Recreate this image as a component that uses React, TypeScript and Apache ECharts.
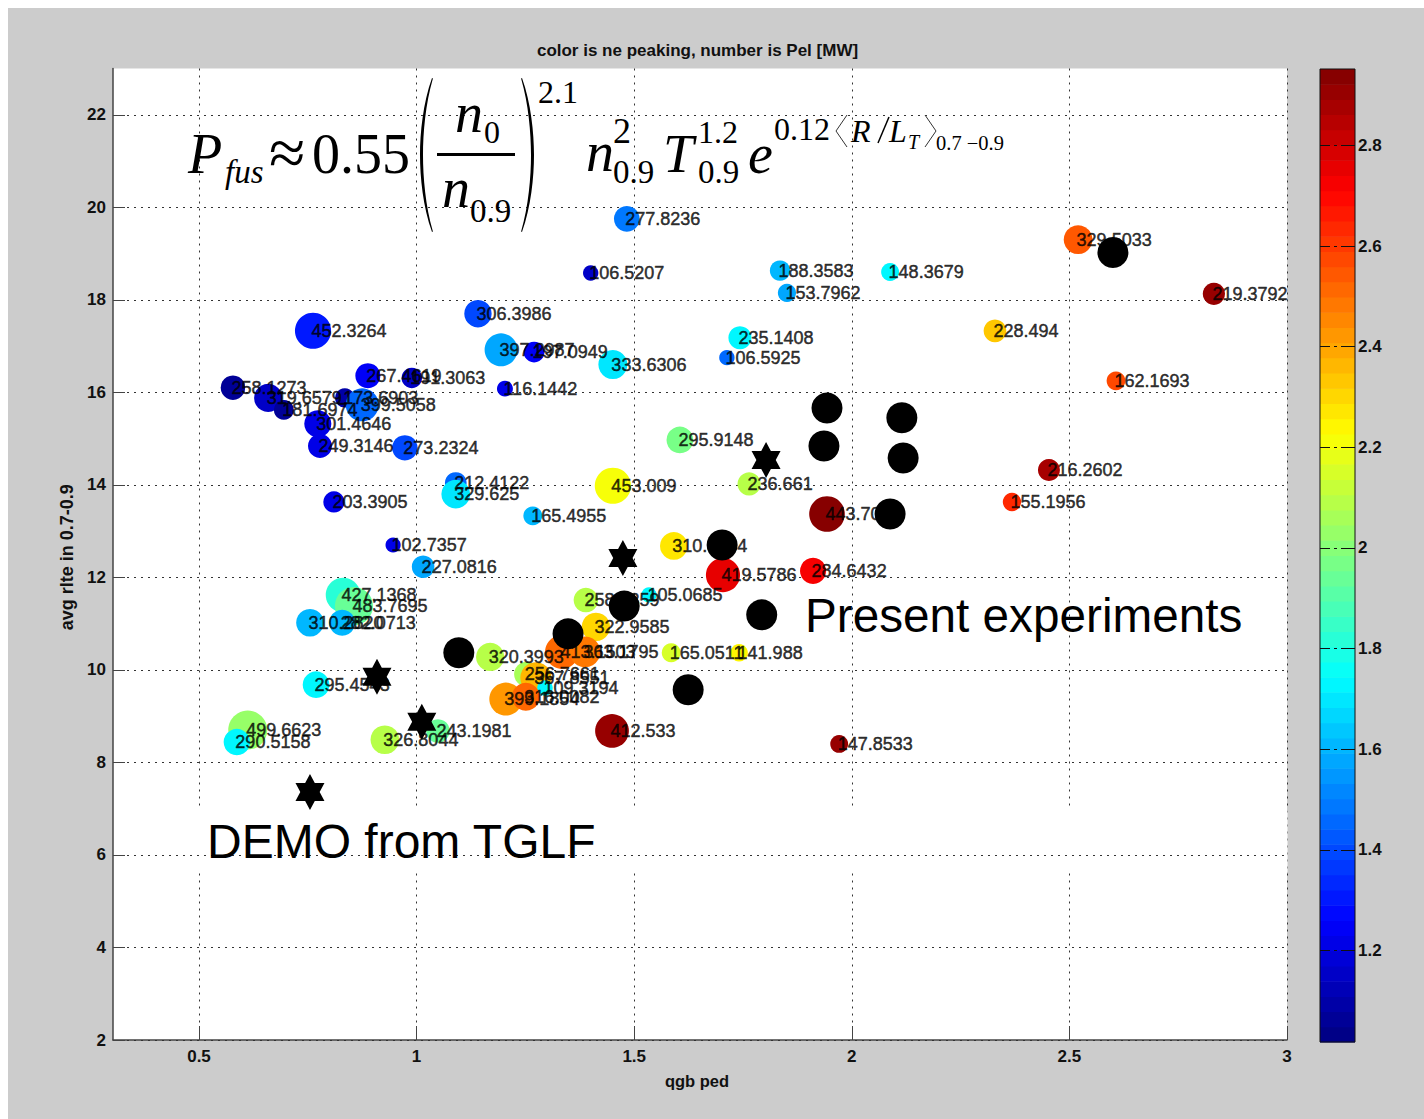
import React, { useEffect, useRef } from "react";
import * as echarts from "echarts";

// colored points: qgb ped, avg rlte, ne peaking, Pel label
const pointX = [1.483,1.40,1.835,2.088,1.851,2.52,2.832,2.329,1.141,0.762,1.194,1.27,1.451,1.743,1.713,0.578,0.659,0.695,0.835,0.875,0.888,0.989,1.203,0.773,0.778,0.973,1.09,1.09,0.81,1.267,1.451,1.605,1.764,1.943,2.453,2.368,2.607,0.946,1.015,0.831,0.856,0.755,0.829,0.769,0.612,0.587,0.927,1.049,1.169,1.591,1.704,1.911,1.389,1.534,1.412,1.585,1.741,1.334,1.387,1.252,1.274,1.295,1.205,1.251,1.449,1.971];
const pointY = [19.75,18.58,18.63,18.6,18.15,19.3,18.13,17.33,17.7,17.33,16.92,16.87,16.6,17.18,16.75,16.1,15.88,15.62,15.88,15.73,16.36,16.31,16.08,15.32,14.84,14.8,14.04,13.8,13.63,13.33,13.98,14.97,14.02,13.37,14.32,13.63,16.25,12.7,12.23,11.62,11.38,11.02,11.02,9.68,8.7,8.44,8.49,8.68,10.28,12.68,12.05,12.14,11.51,11.62,10.93,10.37,10.37,10.39,10.39,9.91,9.83,9.61,9.37,9.42,8.68,8.4];
const pointPeaking = [1.5,1.15,1.6,1.72,1.58,2.55,2.9,2.32,1.4,1.3,1.58,1.25,1.7,1.72,1.45,1.05,1.15,1.05,1.1,1.45,1.25,1.15,1.2,1.22,1.22,1.4,1.45,1.7,1.22,1.6,2.22,1.97,2.1,2.95,2.88,2.62,2.58,1.2,1.58,1.83,1.95,1.62,1.62,1.72,2.02,1.72,2.08,1.95,2.08,2.27,2.76,2.72,2.08,1.72,2.3,2.15,2.25,2.5,2.47,2.05,2.35,1.72,2.42,2.52,2.9,2.92];
const pointPel = ["277.8236","106.5207","188.3583","148.3679","153.7962","329.5033","219.3792","228.494","306.3986","452.3264","397.2987","197.0949","333.6306","235.1408","106.5925","258.1273","319.6579","181.6974","173.6903","399.5058","267.4619","191.3063","116.1442","301.4646","249.3146","273.2324","212.4122","329.625","203.3905","165.4955","453.009","295.9148","236.661","443.7051","216.2602","155.1956","162.1693","102.7357","227.0816","427.1368","483.7695","310.2820","282.0713","295.4543","499.6623","290.5158","326.8044","243.1981","320.3993","310.5254","419.5786","284.6432","258.8359","105.0685","322.9585","165.0511","141.988","413.1503","363.1795","256.7661","367.8551","109.3194","399.1854","316.0082","412.533","147.8533"];

const blackX = [2.6,1.943,2.115,1.936,2.118,2.088,1.702,1.477,1.793,1.348,1.097,1.624];
const blackY = [19.02,15.66,15.45,14.84,14.58,13.37,12.7,11.38,11.19,10.78,10.37,9.57];

const starX = [1.803,1.474,0.909,1.012,0.755];
const starY = [14.54,12.42,9.85,8.88,7.36];

const xTicks = [0.5,1,1.5,2,2.5,3];
const yTicks = [2,4,6,8,10,12,14,16,18,20,22];
const barTicks = [1.2,1.4,1.6,1.8,2,2.2,2.4,2.6,2.8];

const X_MIN = 0.3024, X_MAX = 3, Y_MIN = 2, Y_MAX = 23;
const C_MIN = 1.018, C_MAX = 2.952, LEVELS = 64;

const jet = (i: number) => {
  const t = (i + 0.5) / LEVELS;
  const f = (c: number) => Math.round(255 * Math.max(0, Math.min(1, 1.5 - Math.abs(4 * t - c))));
  return `rgb(${f(3)},${f(2)},${f(1)})`;
};
const levelOf = (v: number) => Math.max(0, Math.min(LEVELS - 1, Math.floor(((v - C_MIN) / (C_MAX - C_MIN)) * LEVELS)));
const levels = Array.from({ length: LEVELS }, (_, i) => i);

const STAR = "path://M50 0L64.4 25L93.3 25L78.9 50L93.3 75L64.4 75L50 100L35.6 75L6.7 75L21.1 50L6.7 25L35.6 25Z";
const sans = "'Liberation Sans', Arial, sans-serif";
const serif = "'Liberation Serif', 'Times New Roman', serif";
const tickFont = { fontFamily: sans, fontSize: 17, fontWeight: 700, color: "#111" };
const pad = 8;

const txt = (text: string, x: number, base: number, fs: number, italic = false, font = serif) => ({
  type: "text", z: 20, x: x - pad, y: base - pad - 0.33 * fs,
  style: { text, fontFamily: font, fontSize: fs, fontStyle: italic ? "italic" : "normal", fill: "#000", textVerticalAlign: "middle", verticalAlign: "middle" },
});

export default function App() {
  const ref = useRef<HTMLDivElement>(null);
  useEffect(() => {
    const d = "M12 0C3 25 0 55 0 77C0 99 3 129 12 154L12.9 153.5C5.5 128 3 99 3 77C3 55 5.5 26 12.9 .5Z";
    echarts.graphic.registerShape("paren", echarts.graphic.extendPath(d, {}) as any);
    const chart = echarts.init(ref.current!, null, { renderer: "svg" });
    const graphics: any[] = [
      { type: "rect", z: 1, shape: { x: 114 - pad, y: 810 - pad, width: 1173.5, height: 62 }, style: { fill: "#fff" } },
      txt("P", 188, 172, 56, true),
      txt("fus", 225, 183, 33, true),
      txt("≈", 269, 174, 66),
      txt("0.55", 312, 172, 56),
      { type: "paren", z: 20, x: 420 - pad, y: 78 - pad, style: { fill: "#000" } },
      { type: "paren", z: 20, x: 534 - pad, y: 78 - pad, scaleX: -1, style: { fill: "#000" } },
      { type: "rect", z: 20, shape: { x: 437 - pad, y: 153 - pad, width: 78, height: 3 }, style: { fill: "#000" } },
      txt("n", 455, 131, 56, true),
      txt("0", 484, 143, 32),
      txt("n", 442, 206, 56, true),
      txt("0.9", 470, 222, 33),
      txt("2.1", 538, 103, 32),
      txt("n", 586, 170, 56, true),
      txt("2", 613, 143, 36),
      txt("0.9", 613, 183, 33),
      txt("T", 663, 172, 55, true),
      txt("1.2", 698, 143, 32),
      txt("0.9", 698, 183, 33),
      txt("e", 748, 172, 56, true),
      txt("0.12", 774, 140, 32),
      { type: "polyline", z: 20, shape: { points: [[847 - pad, 115 - pad], [836 - pad, 131 - pad], [847 - pad, 147 - pad]] }, style: { stroke: "#333", lineWidth: 1, fill: "none" } },
      txt("R", 851, 142, 32, true),
      { type: "line", z: 20, shape: { x1: 878 - pad, y1: 143 - pad, x2: 889 - pad, y2: 117 - pad }, style: { stroke: "#000", lineWidth: 1.5 } },
      txt("L", 889, 142, 32, true),
      txt("T", 908, 149, 20, true),
      { type: "polyline", z: 20, shape: { points: [[925 - pad, 115 - pad], [936 - pad, 131 - pad], [925 - pad, 147 - pad]] }, style: { stroke: "#333", lineWidth: 1, fill: "none" } },
      txt("0.7 −0.9", 936, 150, 20.5),
      txt("DEMO from TGLF", 207, 857, 48, false, sans),
      txt("Present experiments", 805, 631, 47.7, false, sans),
      { type: "rect", z: 20, shape: { x: 1320 - pad, y: 69 - pad, width: 35, height: 973 }, style: { fill: "none", stroke: "#111", lineWidth: 1 } },
    ];
    chart.setOption({
      animation: false,
      backgroundColor: "#cccccc",
      title: {
        text: "color is ne peaking, number is Pel [MW]",
        left: 692.5 - pad, top: 37 - pad, textAlign: "center",
        textStyle: { fontFamily: sans, fontSize: 17, fontWeight: 700, color: "#111" },
      },
      grid: [
        { left: 113 - pad, top: 68.5 - pad, width: 1174, height: 971.5, show: true, backgroundColor: "#fff", borderWidth: 0 },
        { left: 1320 - pad, top: 69 - pad, width: 35, height: 973 },
      ],
      xAxis: [
        {
          type: "value", gridIndex: 0, min: X_MIN, max: X_MAX, z: 0,
          name: "qgb ped", nameLocation: "middle", nameGap: 32,
          nameTextStyle: { fontFamily: sans, fontSize: 16.5, fontWeight: 700, color: "#111", padding: [0, 6, 0, 0] },
          axisLine: { onZero: false, lineStyle: { color: "#444", width: 1.5 } },
          axisTick: { customValues: xTicks, inside: true, length: 14, lineStyle: { color: "#444", width: 1 } },
          axisLabel: { customValues: xTicks, margin: 8, formatter: (v: number) => String(v), ...tickFont },
          splitLine: { show: true, lineStyle: { color: "#333", width: 1, type: [2, 5] } },
        },
        { type: "value", gridIndex: 1, min: 0, max: 1, show: false },
      ],
      yAxis: [
        {
          type: "value", gridIndex: 0, min: Y_MIN, max: Y_MAX, z: 2,
          name: "avg rlte in 0.7-0.9", nameLocation: "middle", nameGap: 36,
          nameTextStyle: { fontFamily: sans, fontSize: 18, fontWeight: 700, color: "#111", padding: [0, 6, 0, 0] },
          axisLine: { onZero: false, lineStyle: { color: "#444", width: 1.5 } },
          axisTick: { customValues: yTicks, inside: true, length: 12, lineStyle: { color: "#444", width: 1 } },
          axisLabel: { customValues: yTicks, margin: 7, formatter: (v: number) => String(v), ...tickFont },
          splitLine: { show: true, lineStyle: { color: "#333", width: 1, type: [2, 5] } },
        },
        {
          type: "value", gridIndex: 1, position: "right", min: C_MIN, max: C_MAX, z: 15,
          axisLine: { show: false },
          axisTick: { show: false, customValues: barTicks },
          axisLabel: { customValues: barTicks, margin: 3, formatter: (v: number) => String(v), ...tickFont },
          splitLine: { show: true, lineStyle: { color: "#111", width: 1, type: [10, 4, 3, 4, 14, 0] } },
        },
      ],
      series: [
        {
          type: "scatter", z: 3, xAxisIndex: 0, yAxisIndex: 0, clip: false,
          data: pointX.map((x, i) => ({
            value: [x, pointY[i]],
            symbolSize: 9 + 0.06 * parseFloat(pointPel[i]),
            itemStyle: { color: jet(levelOf(pointPeaking[i])), opacity: 1 },
          })),
        },
        {
          type: "scatter", z: 4, xAxisIndex: 0, yAxisIndex: 0, symbolSize: 1,
          itemStyle: { color: "transparent" },
          label: {
            show: true, position: "right", distance: -2, offset: [0, 0],
            formatter: (p: any) => pointPel[p.dataIndex],
            fontFamily: sans, fontSize: 18, color: "#000",
            textBorderColor: "#000", textBorderWidth: 0.5,
          },
          data: pointX.map((x, i) => [x, pointY[i]]),
        },
        {
          type: "scatter", z: 5, xAxisIndex: 0, yAxisIndex: 0, symbolSize: 31,
          itemStyle: { color: "#000", opacity: 1 },
          data: blackX.map((x, i) => [x, blackY[i]]),
        },
        {
          type: "scatter", z: 6, xAxisIndex: 0, yAxisIndex: 0, symbol: STAR, symbolKeepAspect: false, symbolSize: [29, 36],
          itemStyle: { color: "#000", opacity: 1 },
          data: starX.map((x, i) => [x, starY[i]]),
        },
        {
          type: "custom", z: 2, xAxisIndex: 1, yAxisIndex: 1, clip: false,
          data: levels.map((i) => [0, C_MIN + (i * (C_MAX - C_MIN)) / LEVELS, 1, C_MIN + ((i + 1) * (C_MAX - C_MIN)) / LEVELS]),
          renderItem: (params: any, api: any) => {
            const a = api.coord([api.value(0), api.value(1)]);
            const b = api.coord([api.value(2), api.value(3)]);
            return {
              type: "rect",
              shape: { x: a[0], y: b[1], width: b[0] - a[0], height: a[1] - b[1] + 0.5 },
              style: { fill: jet(params.dataIndex), stroke: null },
            };
          },
        },
      ],
      graphic: { elements: graphics },
    });
    return () => chart.dispose();
  }, []);
  return <div ref={ref} style={{ position: "absolute", left: 8, top: 8, width: 1416, height: 1111 }} />;
}
